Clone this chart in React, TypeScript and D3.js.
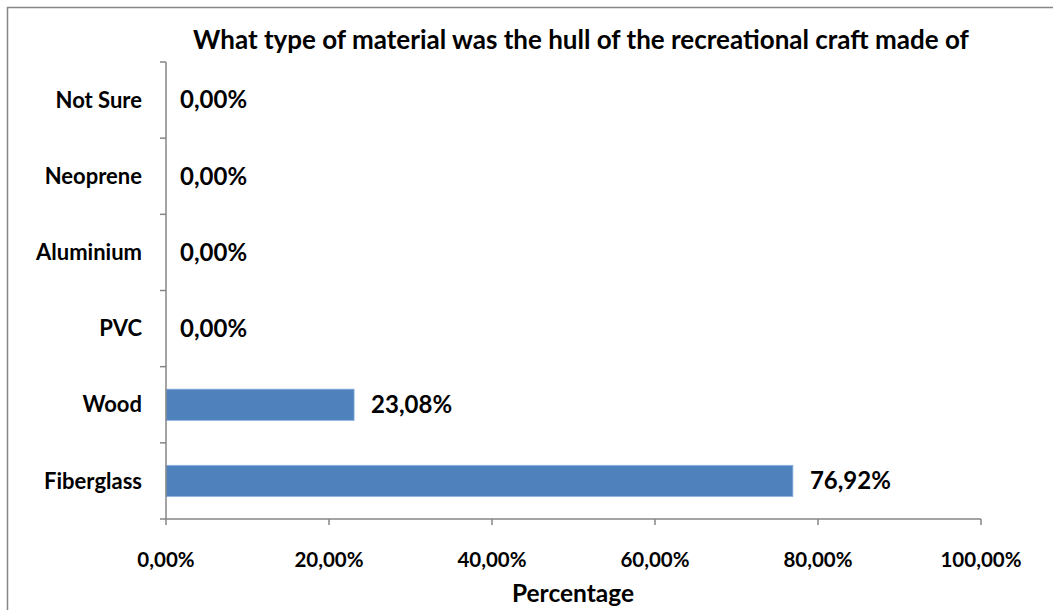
import React from "react";
import * as d3 from "d3";

const categories = ["Fiberglass", "Wood", "PVC", "Aluminium", "Neoprene", "Not Sure"];
const values = [76.92, 23.08, 0, 0, 0, 0];
const xTicks = [0, 20, 40, 60, 80, 100];
const title = "What type of material was the hull of the recreational craft made of";
const xTitle = "Percentage";

const W = 1053;
const H = 610;
const FONT = "Lato, 'Open Sans', sans-serif";

const fmt = (v: number) => v.toFixed(2).replace(".", ",") + "%";

export default function App() {
  const x = d3.scaleLinear().domain([0, 100]).range([166, 981]);
  const y = d3
    .scaleBand<string>()
    .domain([...categories].reverse())
    .range([62, 519])
    .paddingInner(0.59)
    .paddingOuter(0.295);
  const bandStep = y.step();
  const boundaries = d3.range(categories.length + 1).map((i) => 62 + i * bandStep);

  return (
    <svg
      width={W}
      height={H}
      style={{ position: "absolute", left: 0, top: 0, background: "#fff" }}
      fontFamily={FONT}
    >
      <rect x={7.5} y={7.5} width={W + 10} height={H + 10} fill="#fff" stroke="#868686" strokeWidth={1.5} />
      <text x={581} y={40} dy="0.35em" textAnchor="middle" fontSize={26} fontWeight={700} fill="#000">
        {title}
      </text>
      {categories.map((c, i) => (
        <g key={c}>
          {values[i] > 0 && (
            <rect
              x={x(0)}
              y={y(c)!}
              width={x(values[i]) - x(0)}
              height={y.bandwidth()}
              fill="#4F81BD"
              stroke="#8EB4E3"
              strokeWidth={0.8}
            />
          )}
          <text
            x={x(values[i]) + (values[i] > 0 ? 17 : 14)}
            y={y(c)! + y.bandwidth() / 2}
            dy="0.35em"
            fontSize={24}
            fontWeight={700}
            fill="#000"
          >
            {fmt(values[i])}
          </text>
          <text
            x={142}
            y={y(c)! + y.bandwidth() / 2}
            dy="0.35em"
            textAnchor="end"
            fontSize={22}
            fontWeight={700}
            fill="#000"
          >
            {c}
          </text>
        </g>
      ))}
      <line x1={166} x2={166} y1={62} y2={519} stroke="#868686" strokeWidth={1.5} />
      {boundaries.map((b, i) => (
        <line key={i} x1={160} x2={166} y1={b} y2={b} stroke="#868686" strokeWidth={1.5} />
      ))}
      <line x1={x(0)} x2={x(100)} y1={519} y2={519} stroke="#868686" strokeWidth={1.5} />
      {xTicks.map((t) => (
        <g key={t}>
          <line x1={x(t)} x2={x(t)} y1={519} y2={525} stroke="#868686" strokeWidth={1.5} />
          <text x={x(t)} y={560} dy="0.35em" textAnchor="middle" fontSize={20.5} fontWeight={700} fill="#000">
            {fmt(t)}
          </text>
        </g>
      ))}
      <text x={573} y={593} dy="0.35em" textAnchor="middle" fontSize={24.5} fontWeight={700} fill="#000">
        {xTitle}
      </text>
    </svg>
  );
}
